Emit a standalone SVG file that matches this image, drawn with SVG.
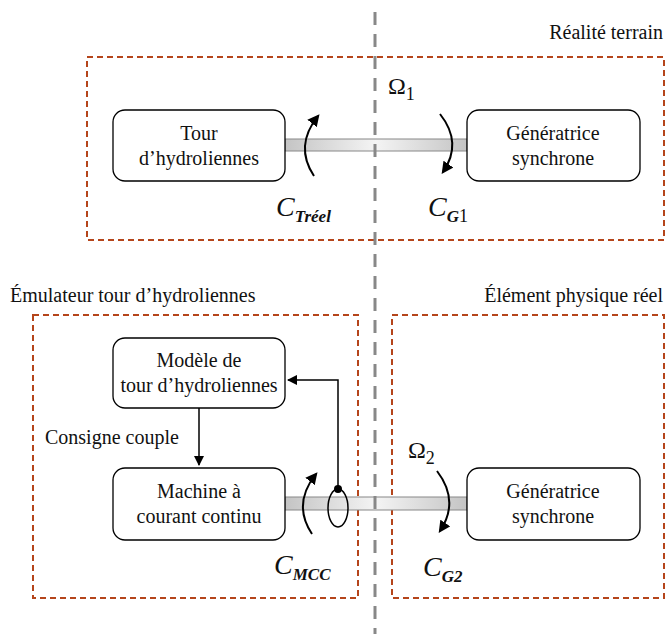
<svg xmlns="http://www.w3.org/2000/svg" width="667" height="634" viewBox="0 0 667 634" font-family="'Liberation Serif','Times New Roman',serif">
<style>
text{font-family:"Liberation Serif","Times New Roman",serif;font-size:20px;fill:#111}
.zone{fill:none;stroke:#b5451b;stroke-width:2;stroke-dasharray:6,4}
.node{fill:#fff;stroke:#000;stroke-width:1.3}
.shaft{fill:url(#sg);stroke:#888;stroke-width:1}
.arc{fill:none;stroke:#000;stroke-width:2}
.math{font-style:italic;font-size:28px}
.sub{font-style:italic;font-weight:bold;font-size:17px}
.ln{fill:none;stroke:#000;stroke-width:1.5}
</style>
<defs>
<linearGradient id="sg" x1="0" y1="0" x2="1" y2="0">
<stop offset="0" stop-color="#c4c4c4"/><stop offset="0.5" stop-color="#f4f4f4"/><stop offset="1" stop-color="#c4c4c4"/>
</linearGradient>
<marker id="ah" viewBox="0 0 10 10" refX="9" refY="5" markerWidth="7" markerHeight="7" orient="auto-start-reverse"><path d="M0,0 L10,5 L0,10 z" fill="#000"/></marker>
<marker id="ah2" viewBox="0 0 10 10" refX="8" refY="5" markerWidth="6" markerHeight="6" orient="auto"><path d="M0,0 L10,5 L0,10 z" fill="#000"/></marker>
</defs>

<g id="zones">
<rect class="zone" x="87" y="57" width="577" height="183"/>
<rect class="zone" x="33" y="315" width="325" height="283"/>
<rect class="zone" x="392" y="315" width="272" height="283"/>
</g>

<text x="663" y="39" text-anchor="end">Réalité terrain</text>
<text x="10" y="302">Émulateur tour d’hydroliennes</text>
<text x="663" y="302" text-anchor="end">Élément physique réel</text>

<g id="connectors">
<rect class="shaft" x="285" y="139" width="182" height="12"/>
<rect class="shaft" x="285" y="497" width="182" height="13"/>
<path class="arc" d="M314,176 Q294,146 318,116" marker-end="url(#ah2)"/>
<path class="arc" d="M440,114 Q463,143 443,172" marker-end="url(#ah2)"/>
<path class="arc" d="M312,534 Q292,504 316,474" marker-end="url(#ah2)"/>
<path class="arc" d="M437,471 Q460,501 440,531" marker-end="url(#ah2)"/>
<ellipse cx="338" cy="508" rx="10" ry="19" fill="none" stroke="#000" stroke-width="1.5"/>
<circle cx="338" cy="489" r="4" fill="#000"/>
<path class="ln" d="M338,489 V380 H288" marker-end="url(#ah)"/>
<path class="ln" d="M199,408 V465" marker-end="url(#ah)"/>
</g>

<line x1="375" y1="12" x2="375" y2="634" stroke="#888" stroke-width="3" stroke-dasharray="13,9"/>

<g id="tour">
<rect class="node" x="113" y="110" width="172" height="71" rx="12"/>
<text x="199" y="140" text-anchor="middle">Tour</text>
<text x="199" y="165" text-anchor="middle">d’hydroliennes</text>
</g>
<g id="gen1">
<rect class="node" x="467" y="110" width="173" height="71" rx="12"/>
<text x="553" y="140" text-anchor="middle">Génératrice</text>
<text x="553" y="165" text-anchor="middle">synchrone</text>
</g>
<g id="modele">
<rect class="node" x="113" y="338" width="172" height="70" rx="12"/>
<text x="199" y="367" text-anchor="middle">Modèle de</text>
<text x="199" y="392" text-anchor="middle">tour d’hydroliennes</text>
</g>
<g id="mcc">
<rect class="node" x="113" y="468" width="172" height="72" rx="12"/>
<text x="199" y="498" text-anchor="middle">Machine à</text>
<text x="199" y="523" text-anchor="middle">courant continu</text>
</g>
<g id="gen2">
<rect class="node" x="467" y="468" width="173" height="72" rx="12"/>
<text x="553" y="498" text-anchor="middle">Génératrice</text>
<text x="553" y="523" text-anchor="middle">synchrone</text>
</g>

<text x="45" y="444">Consigne couple</text>

<text x="388" y="94" style="font-size:24px">Ω<tspan style="font-size:18px" dy="6">1</tspan></text>
<text x="408" y="458" style="font-size:24px">Ω<tspan style="font-size:18px" dy="6">2</tspan></text>
<text class="math" x="276" y="216">C<tspan class="sub" dy="6">Tréel</tspan></text>
<text class="math" x="428" y="216">C<tspan class="sub" dy="6">G</tspan><tspan style="font-size:18px;font-style:normal">1</tspan></text>
<text class="math" x="274" y="574">C<tspan class="sub" dy="6">MCC</tspan></text>
<text class="math" x="423" y="576">C<tspan class="sub" dy="6">G2</tspan></text>
</svg>
